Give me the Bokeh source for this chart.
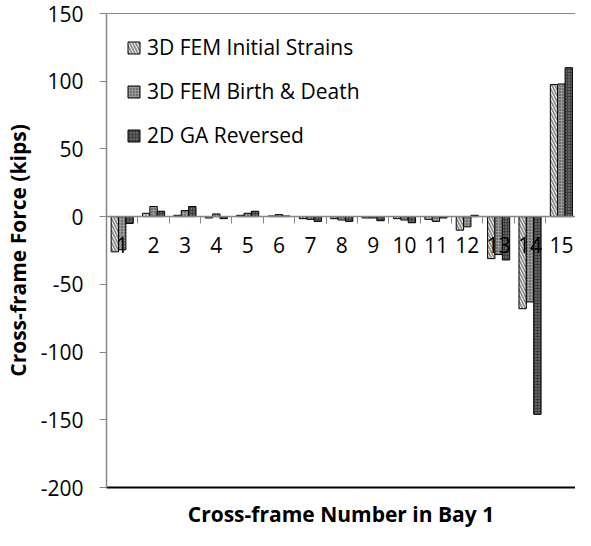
from bokeh.plotting import figure
from bokeh.models import (ColumnDataSource, FixedTicker, Range1d, Legend, LegendItem,
                          LinearAxis)
from bokeh.transform import dodge
from bokeh.core.properties import value
from bokeh.embed import file_html
from bokeh.resources import INLINE

# ---- data ----
frames = list(range(1, 16))
frame_labels = [str(f) for f in frames]
initial_strains = [-26, 2.5, 1, -1, 1, 0.5, -1.5, -1.5, -1, -1.5, -2, -10, -31, -68, 97.5]
birth_death = [-24.5, 7.5, 4.5, 2, 2.5, 1.5, -2, -2.5, -1, -2.5, -3.5, -7.5, -28, -63, 98]
ga_reversed = [-5, 4, 7.5, -1.5, 4, 0.5, -3.5, -3.5, -3, -4.5, -1, 1, -32, -146, 110]
series_names = ["3D FEM Initial Strains", "3D FEM Birth & Death", "2D GA Reversed"]
y_ticks = [-200, -150, -100, -50, 0, 50, 100, 150]
y_tick_labels = ["-200", "-150", "-100", "-50", "0", "50", "100", "150"]
x_title = "Cross-frame Number in Bay 1"
y_title = "Cross-frame Force (kips)"

FONT = "Open Sans"
FS = "21px"
GRAY = "#868686"

src = ColumnDataSource(dict(x=frames, lab=frame_labels, base=[0] * len(frames),
                            s1=initial_strains, s2=birth_death, s3=ga_reversed))

p = figure(width=575, height=530, x_range=Range1d(0.5, 15.45), y_range=Range1d(-200, 150),
           output_backend="svg", toolbar_location=None,
           min_border_left=102, min_border_right=0, min_border_top=13, min_border_bottom=38,
           x_axis_location=None)
p.grid.visible = False
p.outline_line_color = None
p.background_fill_color = "white"
p.border_fill_color = "white"

bw = 0.235
r1 = p.vbar(x=dodge("x", -bw, range=p.x_range), top="s1", bottom=0, width=bw, source=src,
            fill_color="white", line_color="black", line_width=1,
            hatch_pattern="\\", hatch_color="#8c8c8c", hatch_scale=6, hatch_weight=1.8)
r2 = p.vbar(x=dodge("x", 0, range=p.x_range), top="s2", bottom=0, width=bw, source=src,
            fill_color="#9a9a9a", line_color="black", line_width=1,
            hatch_pattern=".", hatch_color="#303030", hatch_scale=3, hatch_weight=1)
r3 = p.vbar(x=dodge("x", bw, range=p.x_range), top="s3", bottom=0, width=bw, source=src,
            fill_color="#3f3f3f", line_color="black", line_width=1,
            hatch_pattern=".", hatch_color="#9a9a9a", hatch_scale=3, hatch_weight=1)

# category labels next to the zero line (drawn over the bars, as in the original)
p.text(x="x", y="base", text="lab", source=src, text_align="center", text_baseline="top",
       y_offset=20, text_font=value(FONT), text_font_size=value(FS), text_color="black")

# y axis
ya = p.yaxis[0]
ya.ticker = FixedTicker(ticks=y_ticks)
ya.major_label_overrides = dict(zip(y_ticks, y_tick_labels))
ya.axis_line_color = GRAY
ya.axis_line_width = 1.5
ya.major_tick_line_color = GRAY
ya.major_tick_out = 7
ya.major_tick_in = 0
ya.minor_tick_line_color = None
ya.minor_tick_out = 0
ya.major_label_text_font = FONT
ya.major_label_text_font_size = FS
ya.major_label_text_color = "black"
ya.major_label_standoff = 16
ya.axis_label = y_title
ya.axis_label_text_font = FONT
ya.axis_label_text_font_size = FS
ya.axis_label_text_font_style = "bold"
ya.axis_label_text_color = "black"
ya.axis_label_standoff = 6

# top border line
top = LinearAxis(ticker=FixedTicker(ticks=[]))
top.axis_line_color = GRAY
top.axis_line_width = 1
top.major_tick_line_color = None
top.minor_tick_line_color = None
top.major_tick_out = 0
top.minor_tick_out = 0
top.major_label_standoff = 0
p.add_layout(top, "above")

# x axis line at zero with tick marks between categories
xa = LinearAxis(fixed_location=0,
                ticker=FixedTicker(ticks=[], minor_ticks=[f + 0.5 for f in frames[:-1]]))
xa.axis_line_color = GRAY
xa.axis_line_width = 1.5
xa.major_tick_line_color = None
xa.major_tick_out = 0
xa.major_tick_in = 0
xa.minor_tick_line_color = GRAY
xa.minor_tick_out = 7
xa.minor_tick_in = 0
xa.major_label_standoff = 0
p.add_layout(xa, "below")

# bottom border + x title
xt = LinearAxis(ticker=FixedTicker(ticks=[]))
xt.axis_line_color = "black"
xt.axis_line_width = 2
xt.major_tick_line_color = None
xt.minor_tick_line_color = None
xt.major_tick_out = 0
xt.minor_tick_out = 0
xt.major_label_standoff = 0
xt.axis_label = x_title
xt.axis_label_text_font = FONT
xt.axis_label_text_font_size = FS
xt.axis_label_text_font_style = "bold"
xt.axis_label_text_color = "black"
xt.axis_label_standoff = 12
p.add_layout(xt, "below")

legend = Legend(items=[LegendItem(label=series_names[0], renderers=[r1]),
                       LegendItem(label=series_names[1], renderers=[r2]),
                       LegendItem(label=series_names[2], renderers=[r3])],
                location="top_left", margin=20, padding=2, spacing=16,
                glyph_width=15, glyph_height=15, label_height=24, label_standoff=6,
                label_text_font=FONT, label_text_font_size=FS, label_text_color="black",
                border_line_color=None, background_fill_alpha=0)
p.add_layout(legend, "center")

open("out.html", "w").write(file_html(p, INLINE))
